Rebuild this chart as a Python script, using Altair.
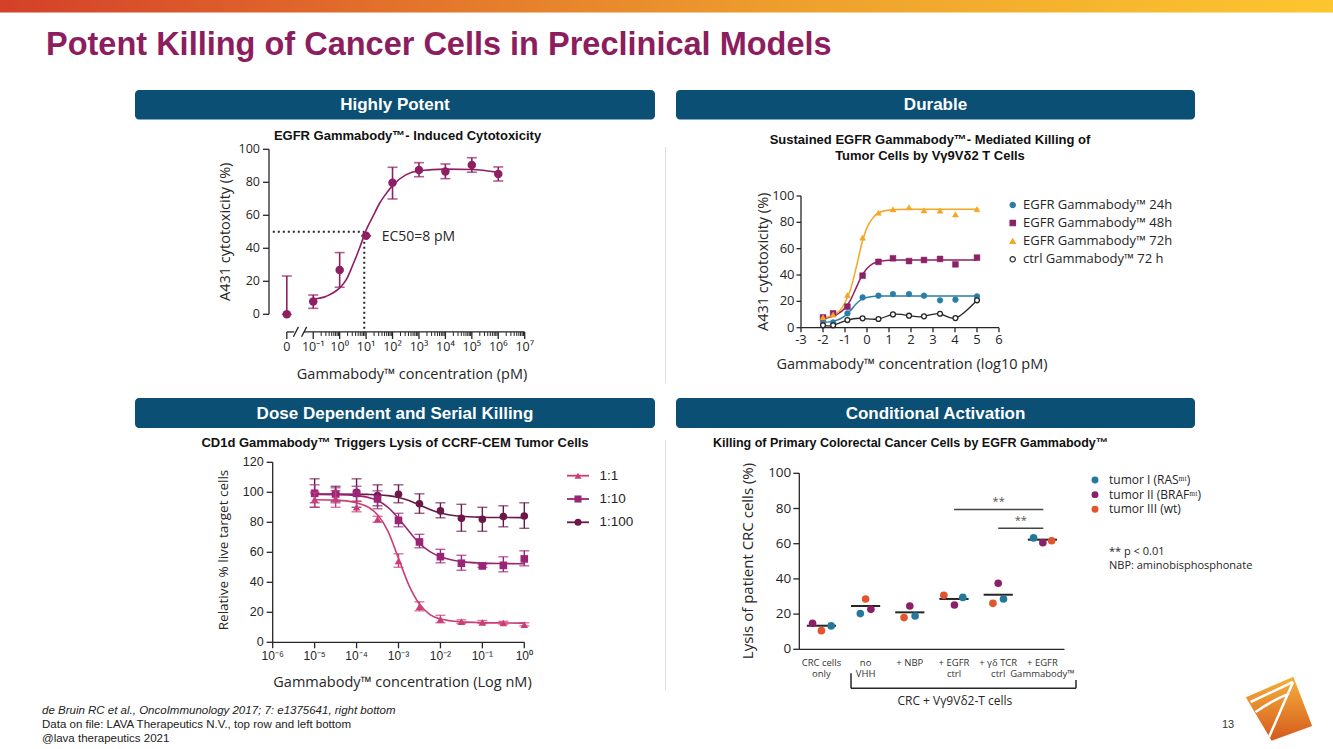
import math
import altair as alt
import pandas as pd

W, H = 1333, 749
SANS = "Open Sans"
ARIAL = "Liberation Sans"
INK = "#262626"
PLUM = "#8c1d5f"
NAVY = "#0b4f74"
RULE = "#dedede"

# ---------------- slide text ----------------
slide_title = "Potent Killing of Cancer Cells in Preclinical Models"
banner_labels = ["Highly Potent", "Durable", "Dose Dependent and Serial Killing", "Conditional Activation"]
footer_lines = ["de Bruin RC et al., OncoImmunology 2017; 7: e1375641, right bottom",
                "Data on file: LAVA Therapeutics N.V., top row and left bottom",
                "@lava therapeutics 2021"]
page_number = "13"

# ---------------- panel 1 ----------------
p1_title = "EGFR Gammabody™- Induced Cytotoxicity"
p1_xtitle = "Gammabody™ concentration (pM)"
p1_ytitle = "A431 cytotoxicity (%)"
p1_ticks_y = [0, 20, 40, 60, 80, 100]
p1_tick_pos = [-2, -1, 0, 1, 2, 3, 4, 5, 6, 7]          # log10 pM; -2 carries the "0" dose
p1_tick_labels = ["0", "10⁻¹", "10⁰", "10¹", "10²", "10³", "10⁴", "10⁵", "10⁶", "10⁷"]
p1_logc = [-2, -1, 0, 1, 2, 3, 4, 5, 6]
p1_mean = [0, 7.7, 26.9, 47.6, 79.8, 87.5, 86.5, 90.5, 85.1]
p1_low = [0, 3.6, 16.4, 47.6, 69.9, 83.4, 82.2, 86.1, 80.8]
p1_high = [23.2, 11.7, 37.4, 47.6, 89.1, 91.9, 91.1, 94.9, 89.3]
p1_fit_logc = [-1, -0.5, 0, 0.25, 0.5, 0.75, 1, 1.25, 1.5, 1.75, 2, 2.5, 3, 4, 5, 6]
p1_fit_val = [9.3, 11, 16, 21, 30, 40, 51, 59, 67, 73, 78, 84.5, 87, 88, 87.8, 86]
p1_ec50_logc = 0.93
p1_ec50_level = 50
p1_ec50_text = "EC50=8 pM"

# ---------------- panel 2 ----------------
p2_title = ["Sustained EGFR Gammabody™- Mediated Killing of", "Tumor Cells by Vγ9Vδ2 T Cells"]
p2_xtitle = "Gammabody™ concentration (log10 pM)"
p2_ytitle = "A431 cytotoxicity (%)"
p2_ticks_x = [-3, -2, -1, 0, 1, 2, 3, 4, 5, 6]
p2_ticks_y = [0, 20, 40, 60, 80, 100]
p2_logc = [-2.0, -1.54, -0.89, -0.2, 0.52, 1.18, 1.91, 2.59, 3.32, 4.02, 5.0]
p2_24h = [4.6, 4.0, 10.9, 23.0, 24.3, 25.6, 25.6, 24.3, 20.8, 21.3, 23.8]
p2_48h = [7.8, 10.9, 16.0, 39.5, 50.0, 52.7, 50.6, 51.4, 52.2, 48.1, 53.2]
p2_72h = [7.8, 10.0, 24.8, 68.4, 87.3, 89.9, 91.4, 89.1, 88.9, 86.0, 90.0]
p2_ctrl = [1.8, 1.8, 5.8, 7.1, 6.6, 10.1, 9.1, 8.6, 10.6, 7.3, 20.8]
p2_fit_logc = [-2, -1.5, -1, -0.75, -0.5, -0.25, 0, 0.25, 0.5, 1, 1.5, 2, 3, 4, 5]
p2_fit_24h = [4, 5, 9, 13, 18, 21.5, 23, 23.7, 24, 24, 24, 24, 24, 24, 24]
p2_fit_48h = [7, 9, 15, 21, 30, 39, 45, 48.5, 50, 51.3, 51.5, 51.5, 51.5, 51.5, 51.5]
p2_fit_72h = [7.5, 9.5, 19, 29, 45, 63, 76, 83, 87, 89.3, 89.8, 90, 90, 90, 90]
p2_series = ["EGFR Gammabody™ 24h", "EGFR Gammabody™ 48h", "EGFR Gammabody™ 72h", "ctrl Gammabody™ 72 h"]
p2_colors = ["#2a7ea6", "#8d2166", "#f5a623", INK]
p2_fills = ["#2a7ea6", "#8d2166", "#f5a623", "white"]
p2_shapes = ["circle", "square", "triangle-up", "circle"]

# ---------------- panel 3 ----------------
p3_title = "CD1d Gammabody™ Triggers Lysis of CCRF-CEM Tumor Cells"
p3_xtitle = "Gammabody™ concentration (Log nM)"
p3_ytitle = "Relative % live target cells"
p3_ticks_y = [0, 20, 40, 60, 80, 100, 120]
p3_tick_pos = [-6, -5, -4, -3, -2, -1, 0]
p3_tick_labels = ["10⁻⁶", "10⁻⁵", "10⁻⁴", "10⁻³", "10⁻²", "10⁻¹", "10⁰"]
p3_logc = [-5, -4.5, -4, -3.5, -3, -2.5, -2, -1.5, -1, -0.5, 0]
p3_r1 = [95.3, 96.0, 90.0, 82.0, 54.2, 23.8, 15.3, 13.8, 13.3, 12.9, 11.8]
p3_r1_lo = [90, 90, 87, 80, 50, 21, 13, 12.5, 12.5, 12, 11]
p3_r1_hi = [100, 101, 94, 84, 59, 27, 18, 15, 14.5, 14, 13]
p3_r10 = [99.3, 98.9, 99.3, 95.6, 81.3, 66.9, 57.1, 52.7, 50.9, 51.3, 55.6]
p3_r10_lo = [93, 93, 94, 89, 77, 63, 53, 48, 50, 47, 51]
p3_r10_hi = [105, 103, 104, 101, 86, 72, 62, 58, 52, 57, 61]
p3_r100 = [99.3, 99.3, 100.0, 97.8, 98.7, 92.4, 87.6, 82.7, 82.0, 83.8, 84.2]
p3_r100_lo = [90, 94, 90, 91, 93, 86, 83, 74, 74, 77, 76]
p3_r100_hi = [109, 104, 109, 105, 105, 99, 93, 92, 90, 91, 93]
p3_fit_logc = [-5, -4.5, -4, -3.75, -3.5, -3.25, -3, -2.75, -2.5, -2.25, -2, -1.5, -1, -0.5, 0]
p3_fit_r1 = [95, 94.8, 93, 90.5, 85, 74, 56, 38, 25.5, 18.5, 15.5, 13.6, 13.1, 12.9, 12.8]
p3_fit_r10 = [98.5, 98.4, 97.8, 96.8, 94.5, 90, 82.5, 74, 66, 60.5, 57, 53.8, 52.8, 52.5, 52.4]
p3_fit_r100 = [98.8, 98.8, 98.7, 98.6, 98.4, 97.8, 96.5, 94.5, 91.5, 88.5, 86.2, 84, 83.4, 83.2, 83.1]
p3_series = ["1:1", "1:10", "1:100"]
p3_colors = ["#cc3d78", "#9a2577", "#6b1848"]
p3_shapes = ["triangle-up", "square", "circle"]

# ---------------- panel 4 ----------------
p4_title = "Killing of Primary Colorectal Cancer Cells by EGFR Gammabody™"
p4_ytitle = "Lysis of patient CRC cells (%)"
p4_ticks_y = [0, 20, 40, 60, 80, 100]
p4_groups_line1 = ["CRC cells", "no", "+ NBP", "+ EGFR", "+ γδ TCR", "+ EGFR"]
p4_groups_line2 = ["only", "VHH", "", "ctrl", "ctrl", "Gammabody™"]
p4_tumors = ["tumor I (RASᵐᵗ)", "tumor II (BRAFᵐᵗ)", "tumor III (wt)"]
p4_colors = ["#24799b", "#8a2068", "#e1542c"]
p4_tumor1 = [13.3, 20.3, 18.9, 29.5, 28.6, 63.3]
p4_tumor2 = [14.8, 22.7, 24.6, 25.2, 37.5, 60.6]
p4_tumor3 = [10.6, 28.6, 18.0, 30.7, 26.1, 61.7]
p4_jitter1 = [0.22, -0.12, 0.12, 0.20, 0.12, -0.20]
p4_jitter2 = [-0.20, 0.12, 0.0, 0.01, 0.0, 0.01]
p4_jitter3 = [0.0, 0.0, -0.13, -0.23, -0.12, 0.21]
p4_group_mean = [13.4, 24.6, 21.0, 28.6, 31.0, 62.3]
p4_sig_from = [3, 4]
p4_sig_to = [5.02, 5.02]
p4_sig_level = [79.5, 68.75]
p4_bracket_text = "CRC + Vγ9Vδ2-T cells"
p4_notes = ["** p < 0.01", "NBP: aminobisphosphonate"]


# ======================================================================
def one(**cols):
    return pd.DataFrame({k: [v] for k, v in cols.items()})


def text_at(txt, x, y, size, font=SANS, weight="normal", color=INK, align="left", style="normal", angle=0):
    return alt.Chart(one(t=txt)).mark_text(
        align=align, baseline="middle", font=font, fontSize=size, fontWeight=weight,
        fontStyle=style, color=color, angle=angle).encode(x=alt.value(x), y=alt.value(y), text="t:N")


def lin(domain, rng):
    return alt.Scale(domain=domain, range=rng, nice=False, zero=False)


def y_axis(scale, values, labels, ax_px, tick, pad, font, size):
    d = pd.DataFrame({"v": values, "t": labels})
    yy = alt.Y("v:Q", scale=scale, axis=None)
    return [
        alt.Chart(one(lo=values[0], hi=values[-1])).mark_rule(color=INK, strokeWidth=1.3).encode(
            x=alt.value(ax_px), y=alt.Y("lo:Q", scale=scale, axis=None), y2="hi:Q"),
        alt.Chart(d).mark_rule(color=INK, strokeWidth=1.3).encode(
            x=alt.value(ax_px - tick), x2=alt.value(ax_px), y=yy),
        alt.Chart(d).mark_text(align="right", baseline="middle", font=font, fontSize=size, color=INK).encode(
            x=alt.value(ax_px - tick - pad), y=yy, text="t:N"),
    ]


def x_axis(scale, values, labels, ax_px, tick, pad, font, size, domain=True):
    d = pd.DataFrame({"v": values, "t": labels})
    xx = alt.X("v:Q", scale=scale, axis=None)
    parts = []
    if domain:
        parts.append(alt.Chart(one(lo=values[0], hi=values[-1])).mark_rule(color=INK, strokeWidth=1.3).encode(
            x=alt.X("lo:Q", scale=scale, axis=None), x2="hi:Q", y=alt.value(ax_px)))
    if tick > 0:
        parts.append(alt.Chart(d).mark_rule(color=INK, strokeWidth=1.3).encode(
            x=xx, y=alt.value(ax_px), y2=alt.value(ax_px + tick)))
    parts.append(alt.Chart(d).mark_text(align="center", baseline="top", font=font, fontSize=size,
                                        color=INK).encode(
        x=xx, y=alt.value(ax_px + tick + pad), text="t:N"))
    return parts


layers = []

# ---------------- decorations ----------------
grad = alt.LinearGradient(gradient="linear", x1=0, x2=1, y1=0, y2=0, stops=[
    alt.GradientStop(color="#d4402a", offset=0), alt.GradientStop(color="#e3722b", offset=0.3),
    alt.GradientStop(color="#eea02d", offset=0.6), alt.GradientStop(color="#fcc630", offset=1)])
layers.append(alt.Chart(one(k=0)).mark_rect(fill=grad).encode(
    x=alt.value(0), x2=alt.value(W), y=alt.value(0), y2=alt.value(12.5)))
layers.append(text_at(slide_title, 46, 45, 32.5, ARIAL, "bold", PLUM))

banner_boxes = [(135, 655, 90, 119.5), (676, 1195, 90, 119.5), (135, 655, 398, 428), (676, 1195, 398, 428)]
for label, (x0, x1, y0, y1) in zip(banner_labels, banner_boxes):
    layers.append(alt.Chart(one(k=0)).mark_rect(color=NAVY, cornerRadius=4).encode(
        x=alt.value(x0), x2=alt.value(x1), y=alt.value(y0), y2=alt.value(y1)))
    layers.append(text_at(label, (x0 + x1) / 2, (y0 + y1) / 2 + 0.5, 17, ARIAL, "bold", "white", "center"))

for y0, y1 in [(147, 383), (440, 690)]:
    layers.append(alt.Chart(one(k=0)).mark_rule(color=RULE, strokeWidth=1).encode(
        x=alt.value(665.5), y=alt.value(y0), y2=alt.value(y1)))

for i, (line, y) in enumerate(zip(footer_lines, [711, 725, 739])):
    layers.append(text_at(line, 42, y, 11.5, ARIAL, "normal", "#222222", "left", "italic" if i == 0 else "normal"))
layers.append(text_at(page_number, 1228, 725, 11, ARIAL, "normal", "#333333", "center"))

logo_grad = alt.LinearGradient(gradient="linear", x1=0, x2=0, y1=0, y2=1, stops=[
    alt.GradientStop(color="#f4b13c", offset=0), alt.GradientStop(color="#d65a1d", offset=1)])
layers.append(alt.Chart(one(k=0)).mark_point(
    shape="M0.43,-0.955 L0.99,0.52 L-0.22,0.955 L-0.99,-0.34 Z", filled=True, fill=logo_grad,
    opacity=1, strokeWidth=0, size=4489).encode(x=alt.value(1279), y=alt.value(708.7)))
layers.append(alt.Chart(one(k=0)).mark_point(
    shape="M-0.85,-0.2 Q-0.2,-0.5 0.42,-0.8 M0.42,-0.8 Q0.05,0.05 -0.3,0.85 M-0.7,0.1 Q-0.2,-0.25 0.3,-0.45",
    filled=False, stroke="white", strokeWidth=2.5, opacity=1, size=4489).encode(
    x=alt.value(1279), y=alt.value(708.7)))

layers.append(text_at(p1_title, 407.5, 136, 13, ARIAL, "bold", "#111111", "center"))
layers.append(text_at(p2_title[0], 930, 140, 13, ARIAL, "bold", "#111111", "center"))
layers.append(text_at(p2_title[1], 930, 156, 13, ARIAL, "bold", "#111111", "center"))
layers.append(text_at(p3_title, 395, 443, 13, ARIAL, "bold", "#111111", "center"))
layers.append(text_at(p4_title, 713, 443, 12.5, ARIAL, "bold", "#111111", "left"))

# axis titles
layers.append(text_at(p1_xtitle, 412, 375, 14.5, SANS, "normal", INK, "center"))
layers.append(text_at(p1_ytitle, 226, 231.8, 14.5, SANS, "normal", INK, "center", angle=270))
layers.append(text_at(p2_xtitle, 912, 365, 14.5, SANS, "normal", INK, "center"))
layers.append(text_at(p2_ytitle, 764, 261.8, 14.5, SANS, "normal", INK, "center", angle=270))
layers.append(text_at(p3_xtitle, 402.5, 683, 14.5, SANS, "normal", INK, "center"))
layers.append(text_at(p3_ytitle, 224, 550, 13.5, SANS, "normal", INK, "center", angle=270))
layers.append(text_at(p4_ytitle, 748, 561, 15, SANS, "normal", INK, "center", angle=270))

# ---------------- panel 1 ----------------
P1C = "#8e1f62"
s1x = lin([-2, 7], [286.8, 524.7])
s1y = lin([0, 100], [314.3, 149.3])
P1_XAX = 332


def x1(f):
    return alt.X(f"{f}:Q", scale=s1x, axis=None)


def y1(f):
    return alt.Y(f"{f}:Q", scale=s1y, axis=None)


p1_pts = pd.DataFrame({"x": p1_logc, "y": p1_mean, "lo": p1_low, "hi": p1_high})
p1_minor = [n + math.log10(k) for n in range(-1, 7) for k in range(2, 10)]
p1_parts = y_axis(s1y, p1_ticks_y, [str(v) for v in p1_ticks_y], 269, 6, 3, SANS, 12.5)
p1_parts += x_axis(s1x, p1_tick_pos, p1_tick_labels, P1_XAX, 7, 2, SANS, 12.5, domain=False)
p1_parts.append(alt.Chart(pd.DataFrame({"x": p1_minor})).mark_rule(color=INK, strokeWidth=1).encode(
    x=x1("x"), y=alt.value(P1_XAX), y2=alt.value(P1_XAX + 4)))
p1_parts.append(alt.Chart(pd.DataFrame({"x": [-2, -1.35], "x2": [-1.72, 7], "y": [-10.7, -10.7]})).mark_rule(
    color=INK, strokeWidth=1.3).encode(x=x1("x"), x2="x2:Q", y=y1("y")))
p1_parts.append(alt.Chart(pd.DataFrame({"x": [-1.75, -1.44], "x2": [-1.56, -1.25], "y": [-13.6, -13.6],
                                        "y2": [-7.6, -7.6]})).mark_rule(color=INK, strokeWidth=1.3).encode(
    x=x1("x"), x2="x2:Q", y=y1("y"), y2="y2:Q"))
p1_parts.append(alt.Chart(one(x=-2.53, x2=p1_ec50_logc, y=p1_ec50_level)).mark_rule(
    color=INK, strokeWidth=2, strokeDash=[2, 3]).encode(x=x1("x"), x2="x2:Q", y=y1("y")))
p1_parts.append(alt.Chart(one(x=p1_ec50_logc, y=p1_ec50_level, y2=-10.7)).mark_rule(
    color=INK, strokeWidth=2, strokeDash=[2, 3]).encode(x=x1("x"), y=y1("y"), y2="y2:Q"))
p1_parts.append(alt.Chart(pd.DataFrame({"x": p1_fit_logc, "y": p1_fit_val})).mark_line(
    color=P1C, strokeWidth=1.6, interpolate="monotone").encode(x=x1("x"), y=y1("y")))
p1_parts.append(alt.Chart(p1_pts).mark_rule(color=P1C, strokeWidth=1.6).encode(x=x1("x"), y=y1("lo"), y2="hi:Q"))
for end in ["lo", "hi"]:
    p1_parts.append(alt.Chart(p1_pts).mark_tick(color=P1C, orient="horizontal", size=10, thickness=1.6).encode(
        x=x1("x"), y=y1(end)))
p1_parts.append(alt.Chart(p1_pts).mark_circle(color=P1C, size=72, opacity=1).encode(x=x1("x"), y=y1("y")))
p1_parts.append(alt.Chart(one(x=1.59, y=47, t=p1_ec50_text)).mark_text(
    align="left", baseline="middle", font=SANS, fontSize=14, color=INK).encode(x=x1("x"), y=y1("y"), text="t:N"))
layers.append(alt.layer(*p1_parts))

# ---------------- panel 2 ----------------
s2x = lin([-3, 6], [801, 999])
s2y = lin([0, 100], [327.7, 196])


def x2f(f):
    return alt.X(f"{f}:Q", scale=s2x, axis=None)


def y2f(f):
    return alt.Y(f"{f}:Q", scale=s2y, axis=None)


p2_pts = pd.DataFrame({"x": p2_logc, "h24": p2_24h, "h48": p2_48h, "h72": p2_72h, "ctrl": p2_ctrl})
p2_fits = pd.DataFrame({"x": p2_fit_logc, "h24": p2_fit_24h, "h48": p2_fit_48h, "h72": p2_fit_72h})
p2_parts = y_axis(s2y, p2_ticks_y, [str(v) for v in p2_ticks_y], 801, 4.5, 2, SANS, 13)
p2_parts += x_axis(s2x, p2_ticks_x, [str(v) for v in p2_ticks_x], 327.7, 4.5, 1.5, SANS, 13)
for col, colr in zip(["h24", "h48", "h72"], p2_colors):
    p2_parts.append(alt.Chart(p2_fits).mark_line(color=colr, strokeWidth=1.5, interpolate="monotone").encode(
        x=x2f("x"), y=y2f(col)))
p2_parts.append(alt.Chart(p2_pts).mark_line(color=INK, strokeWidth=1.3, interpolate="natural").encode(
    x=x2f("x"), y=y2f("ctrl")))
for col, colr, fil, shp, sz in zip(["h24", "h48", "h72", "ctrl"], p2_colors, p2_fills, p2_shapes, [32, 34, 36, 24]):
    p2_parts.append(alt.Chart(p2_pts).mark_point(
        shape=shp, filled=True, fill=fil, stroke=colr, strokeWidth=1.3 if col == "ctrl" else 0.5,
        size=sz, opacity=1).encode(x=x2f("x"), y=y2f(col)))
layers.append(alt.layer(*p2_parts))

p2_leg = pd.DataFrame({"label": p2_series})
p2_ly = alt.Y("label:N", scale=alt.Scale(type="point", domain=p2_series, range=[205, 259.3], padding=0), axis=None)
layers.append(alt.layer(
    alt.Chart(p2_leg).mark_point(filled=True, size=28, opacity=1, strokeWidth=1.2).encode(
        x=alt.value(1012.7), y=p2_ly,
        shape=alt.Shape("label:N", scale=alt.Scale(domain=p2_series, range=p2_shapes), legend=None),
        fill=alt.Fill("label:N", scale=alt.Scale(domain=p2_series, range=p2_fills), legend=None),
        stroke=alt.Stroke("label:N", scale=alt.Scale(domain=p2_series, range=p2_colors), legend=None)),
    alt.Chart(p2_leg).mark_text(align="left", baseline="middle", font=SANS, fontSize=13, color=INK).encode(
        x=alt.value(1023), y=p2_ly, text="label:N")))

# ---------------- panel 3 ----------------
s3x = lin([-6, 0], [272.7, 524.3])
s3y = lin([0, 120], [642.3, 462.3])


def x3(f):
    return alt.X(f"{f}:Q", scale=s3x, axis=None)


def y3(f):
    return alt.Y(f"{f}:Q", scale=s3y, axis=None)


p3_pts = pd.DataFrame({"x": p3_logc, "r1": p3_r1, "r1lo": p3_r1_lo, "r1hi": p3_r1_hi,
                       "r10": p3_r10, "r10lo": p3_r10_lo, "r10hi": p3_r10_hi,
                       "r100": p3_r100, "r100lo": p3_r100_lo, "r100hi": p3_r100_hi})
p3_fits = pd.DataFrame({"x": p3_fit_logc, "r1": p3_fit_r1, "r10": p3_fit_r10, "r100": p3_fit_r100})
p3_parts = y_axis(s3y, p3_ticks_y, [str(v) for v in p3_ticks_y], 272.7, 6, 3, ARIAL, 12.5)
p3_parts += x_axis(s3x, p3_tick_pos, p3_tick_labels, 642.3, 6, 3, ARIAL, 12)
for col, colr, shp in zip(["r100", "r10", "r1"], p3_colors[::-1], p3_shapes[::-1]):
    p3_parts.append(alt.Chart(p3_fits).mark_line(color=colr, strokeWidth=1.6, interpolate="monotone").encode(
        x=x3("x"), y=y3(col)))
    p3_parts.append(alt.Chart(p3_pts).mark_rule(color=colr, strokeWidth=1.4).encode(
        x=x3("x"), y=y3(col + "lo"), y2=f"{col}hi:Q"))
    for end in ["lo", "hi"]:
        p3_parts.append(alt.Chart(p3_pts).mark_tick(color=colr, orient="horizontal", size=10, thickness=1.4).encode(
            x=x3("x"), y=y3(col + end)))
    p3_parts.append(alt.Chart(p3_pts).mark_point(shape=shp, filled=True, color=colr, size=58, opacity=1).encode(
        x=x3("x"), y=y3(col)))
layers.append(alt.layer(*p3_parts))

p3_leg = pd.DataFrame({"label": p3_series})
p3_ly = alt.Y("label:N", scale=alt.Scale(type="point", domain=p3_series, range=[475.7, 522.3], padding=0), axis=None)
p3_lc = alt.Color("label:N", scale=alt.Scale(domain=p3_series, range=p3_colors), legend=None)
layers.append(alt.layer(
    alt.Chart(p3_leg).mark_rule(strokeWidth=1.8).encode(x=alt.value(567), x2=alt.value(589), y=p3_ly, color=p3_lc),
    alt.Chart(p3_leg).mark_point(filled=True, size=50, opacity=1).encode(
        x=alt.value(578), y=p3_ly, color=p3_lc,
        shape=alt.Shape("label:N", scale=alt.Scale(domain=p3_series, range=p3_shapes), legend=None)),
    alt.Chart(p3_leg).mark_text(align="left", baseline="middle", font=ARIAL, fontSize=13.5, color=INK).encode(
        x=alt.value(599.5), y=p3_ly, text="label:N")))

# ---------------- panel 4 ----------------
s4x = lin([-0.5, 5.5], [799.3, 1064.5])
s4y = lin([0, 100], [649.3, 473.3])


def x4(f):
    return alt.X(f"{f}:Q", scale=s4x, axis=None)


def y4(f):
    return alt.Y(f"{f}:Q", scale=s4y, axis=None)


grp_idx = list(range(len(p4_groups_line1)))
p4_rows = []
for tumor, vals, jit in zip(p4_tumors, [p4_tumor1, p4_tumor2, p4_tumor3], [p4_jitter1, p4_jitter2, p4_jitter3]):
    for g, v, j in zip(grp_idx, vals, jit):
        p4_rows.append({"tumor": tumor, "x": g + j, "y": v})
p4_pts = pd.DataFrame(p4_rows)
p4_means = pd.DataFrame({"x": [g - 0.33 for g in grp_idx], "x2": [g + 0.33 for g in grp_idx], "y": p4_group_mean})
p4_sig = pd.DataFrame({"x": p4_sig_from, "x2": p4_sig_to, "y": p4_sig_level,
                       "mid": [(a + b) / 2 for a, b in zip(p4_sig_from, p4_sig_to)], "t": ["**", "**"]})
p4_color = alt.Color("tumor:N", scale=alt.Scale(domain=p4_tumors, range=p4_colors), legend=None)

p4_parts = y_axis(s4y, p4_ticks_y, [str(v) for v in p4_ticks_y], 799.3, 6, 2, SANS, 13.5)
p4_parts.append(alt.Chart(one(lo=-0.5, hi=5.5)).mark_rule(color=INK, strokeWidth=1.3).encode(
    x=x4("lo"), x2="hi:Q", y=alt.value(649.3)))
for lines, ypx in [(p4_groups_line1, 662.5), (p4_groups_line2, 673.5)]:
    rows = [(g, t) for g, t in zip(grp_idx, lines) if t]
    p4_parts.append(alt.Chart(pd.DataFrame({"v": [r[0] for r in rows], "t": [r[1] for r in rows]})).mark_text(
        align="center", baseline="middle", font=SANS, fontSize=9.5, color="#333333").encode(
        x=x4("v"), y=alt.value(ypx), text="t:N"))
p4_parts.append(alt.Chart(p4_means).mark_rule(color=INK, strokeWidth=2).encode(x=x4("x"), x2="x2:Q", y=y4("y")))
p4_parts.append(alt.Chart(p4_pts).mark_circle(size=58, opacity=1).encode(x=x4("x"), y=y4("y"), color=p4_color))
p4_parts.append(alt.Chart(p4_sig).mark_rule(color="#444444", strokeWidth=1.5).encode(x=x4("x"), x2="x2:Q", y=y4("y")))
p4_parts.append(alt.Chart(p4_sig).mark_text(baseline="bottom", dy=-2, font=SANS, fontSize=11, color="#555555").encode(
    x=x4("mid"), y=y4("y"), text="t:N"))
p4_parts.append(alt.Chart(pd.DataFrame({"x": [0.67, 0.67, 5.76], "x2": [0.67, 5.76, 5.76],
                                        "y": [-13.6, -22.2, -17.4], "y2": [-22.2, -22.2, -22.2]})).mark_rule(
    color=INK, strokeWidth=1.5).encode(x=x4("x"), x2="x2:Q", y=y4("y"), y2="y2:Q"))
p4_parts.append(alt.Chart(one(x=3.02, y=-29.6, t=p4_bracket_text)).mark_text(
    baseline="middle", font=SANS, fontSize=12, color=INK).encode(x=x4("x"), y=y4("y"), text="t:N"))
layers.append(alt.layer(*p4_parts))

p4_leg = pd.DataFrame({"tumor": p4_tumors})
p4_ly = alt.Y("tumor:N", scale=alt.Scale(type="point", domain=p4_tumors, range=[480, 509.3], padding=0), axis=None)
layers.append(alt.layer(
    alt.Chart(p4_leg).mark_circle(size=48, opacity=1).encode(x=alt.value(1095), y=p4_ly, color=p4_color),
    alt.Chart(p4_leg).mark_text(align="left", baseline="middle", font=SANS, fontSize=12, color=INK).encode(
        x=alt.value(1109), y=p4_ly, text="tumor:N")))
for note, y in zip(p4_notes, [552.3, 565.5]):
    layers.append(text_at(note, 1109, y, 11, SANS, "normal", INK, "left"))

chart = alt.layer(*layers).resolve_scale(
    x="independent", y="independent", color="independent", fill="independent",
    stroke="independent", shape="independent"
).properties(
    width=W, height=H, padding=0, autosize=alt.AutoSizeParams(type="none")
).configure_view(strokeWidth=0)

chart.save("out.html", embed_options={"renderer": "svg", "actions": False})
